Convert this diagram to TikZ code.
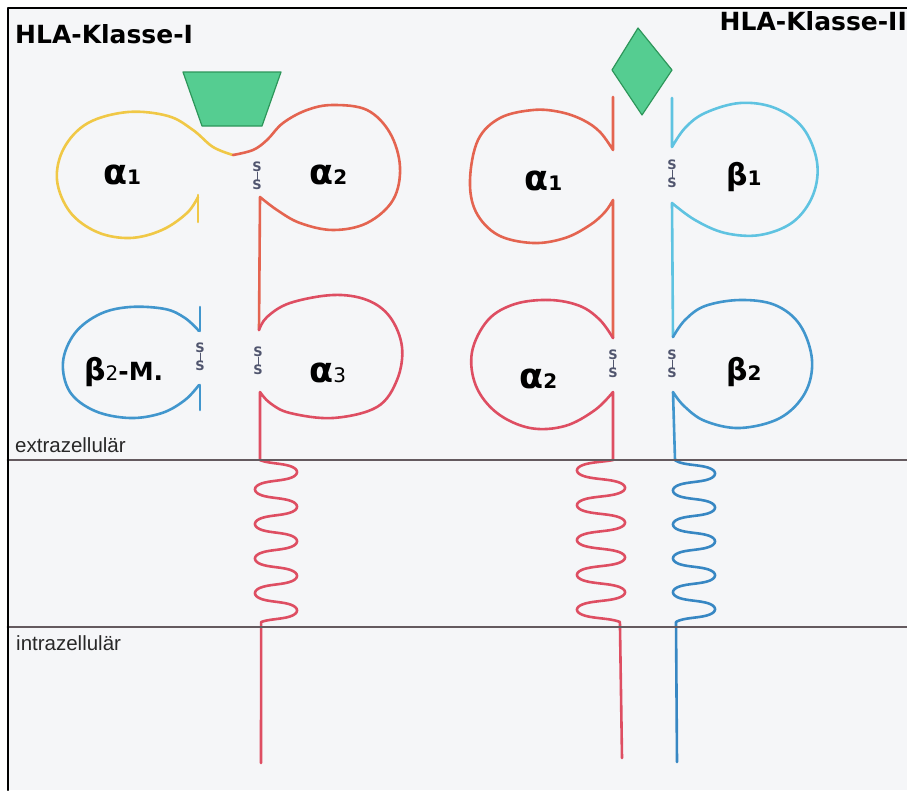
\documentclass[tikz,border=0pt]{standalone}
\usepackage{fontspec}
\setmainfont{DejaVu Sans}
\newfontfamily\zonefont{Liberation Sans}
\newcommand\greekbig[1]{{\fontsize{35}{35}\selectfont #1}}
\newcommand\subdigit[1]{{\fontsize{20}{20}\selectfont #1}}
\begin{document}
\begin{tikzpicture}[x=1pt,y=-1pt,line join=round,line cap=round]
\definecolor{paper}{RGB}{245,246,248}
\definecolor{redA}{RGB}{228,100,80}
\definecolor{redB}{RGB}{222,78,98}
\definecolor{yelA}{RGB}{240,200,70}
\definecolor{cyanA}{RGB}{95,195,225}
\definecolor{blueA}{RGB}{65,150,205}
\definecolor{blueB}{RGB}{55,135,195}
\definecolor{greenF}{RGB}{85,205,145}
\definecolor{greenD}{RGB}{45,150,90}
\definecolor{memb}{RGB}{100,90,95}
\definecolor{ssgray}{RGB}{80,85,110}
\tikzset{
  strand/.style={line width=2.6pt},
  membrane/.style={line width=2.8pt,draw=memb},
  frameline/.style={line width=2.6pt,draw=black},
  ligand/.style={fill=greenF,draw=greenD,line width=1.2pt},
  title/.style={font=\fontsize{25}{25}\selectfont\bfseries,inner sep=0pt},
  dom/.style={font=\bfseries,inner sep=0pt,anchor=base west},
  zone/.style={font=\zonefont\fontsize{20.5}{20.5}\selectfont,text={rgb,255:red,40;green,40;blue,40},inner sep=0pt,anchor=base west},
  ssl/.style={font=\fontsize{13}{13}\selectfont\bfseries,text=ssgray,inner sep=0pt},
  sslink/.style={draw=ssgray,line width=1pt},
}
\newcommand\ssbond[3]{%
  \node[ssl] (#1a) at (#2,#3-9) {S};
  \node[ssl] (#1b) at (#2,#3+9) {S};
  \draw[sslink] (#1a) -- (#1b);}

\useasboundingbox (0,0) rectangle (907,790);
\fill[white] (0,0) rectangle (907,790);
\fill[paper] (8,8) rectangle (907,790);

% ---------- HLA class I ----------
% peptide in the groove
\draw[ligand] (183,72) -- (281,72) -- (262,126) -- (202,126) -- cycle;
% alpha-1 domain
\draw[strand,yelA] plot[smooth,tension=0.6] coordinates {(198,197) (187,213) (162,230) (130,238) (97,232) (70,212) (57,180) (64,148) (88,123) (128,112) (168,116) (193,130) (213,147) (233,155)};
\draw[strand,yelA] (198,195) -- (198,222);
% alpha-2 domain and stem
\draw[strand,redA] plot[smooth,tension=0.6] coordinates {(233,155) (253,150) (267,140) (283,123) (307,110) (333,105) (367,110) (390,133) (400,167) (393,200) (367,223) (333,230) (300,223) (277,210) (260,197)} -- (259,330);
% alpha-3 domain, transmembrane coil, cytoplasmic tail
\draw[strand,redB] plot[smooth,tension=0.6] coordinates {(259,330) (267,317) (290,303) (333,295) (367,300) (390,317) (402,347) (397,380) (377,407) (333,418) (290,413) (270,403) (260,392)} -- (260,460);
\draw[strand,redB] plot[domain=-50:1665,samples=320,smooth,variable=\t]
  ({276+21*sin(\t)},{460+0.096081*(\t+50)-1.4*(sin(2*\t)+0.9848)}) -- (261,763);
% beta-2 microglobulin
\draw[strand,blueA] plot[smooth,tension=0.6] coordinates {(199,331) (185,318) (165,309) (130,307) (100,314) (75,333) (63,362) (70,392) (95,411) (130,418) (162,413) (185,400) (199,385)};
\draw[strand,blueA] (200,307) -- (200,331);
\draw[strand,blueA] (200,385) -- (200,410);
% disulfide bridges
\ssbond{ssA}{257}{176}
\ssbond{ssB}{258}{361}
\ssbond{ssC}{200}{357}

% ---------- HLA class II ----------
\draw[ligand] (638,28) -- (672,70) -- (642,115) -- (612,70) -- cycle;
% alpha chain
\draw[strand,redA] (613,97) -- plot[smooth,tension=0.6] coordinates {(613,150) (600,132) (583,120) (560,112) (533,110) (500,118) (478,140) (470,180) (476,212) (498,235) (533,243) (565,238) (590,225) (605,212) (613,200)} -- (613,338);
\draw[strand,redB] plot[smooth,tension=0.6] coordinates {(613,338) (600,320) (580,306) (550,300) (515,304) (488,320) (472,352) (476,386) (497,413) (530,428) (565,426) (595,410) (613,392)} -- (613,460);
\draw[strand,redB] plot[domain=-30:1672,samples=320,smooth,variable=\t]
  ({601-24*sin(\t)},{460+0.096692*(\t+30)-1.4*(sin(2*\t)+0.8660)}) -- (622,758);
% beta chain
\draw[strand,cyanA] (672,98) -- plot[smooth,tension=0.6] coordinates {(672,147) (685,128) (705,113) (740,103) (775,108) (803,128) (817,162) (813,195) (793,222) (760,235) (725,233) (695,220) (672,203)} -- (673,337);
\draw[strand,blueA] plot[smooth,tension=0.6] coordinates {(673,337) (685,320) (705,306) (740,300) (775,305) (800,325) (812,360) (805,393) (780,418) (740,428) (705,421) (684,406) (673,392)} -- (675,460);
\draw[strand,blueB] plot[domain=-65:1679,samples=320,smooth,variable=\t]
  ({694+21*sin(\t)},{460+0.094213*(\t+65)-1.4*(sin(2*\t)+0.7660)}) -- (677,762);
% disulfide bridges
\ssbond{ssD}{672}{174}
\ssbond{ssE}{613}{364}
\ssbond{ssF}{672}{364}

% ---------- membrane and frame ----------
\draw[membrane] (8,460) -- (907,460);
\draw[membrane] (8,627) -- (907,627);
\draw[frameline] (8,790) -- (8,8) -- (907,8);

% ---------- labels ----------
\node[title,anchor=base west] (classI) at (15,43) {HLA-Klasse-I};
\node[title,anchor=base east] (classII) at (907,30) {HLA-Klasse-II};
\node[dom] (la1) at (103,184) {\greekbig{α}\subdigit{1}};
\node[dom] (la2) at (309,184) {\greekbig{α}\subdigit{2}};
\node[dom] (la3) at (309,382) {\greekbig{α}\subdigit{\mdseries 3}};
\node[dom] (lb2m) at (84,380) {\fontsize{30}{30}\selectfont β\subdigit{\mdseries 2}{\fontsize{25}{25}\selectfont -M.}};
\node[dom] (lIIa1) at (524,190) {\greekbig{α}\subdigit{1}};
\node[dom] (lIIa2) at (519,388) {\greekbig{α}\subdigit{2}};
\node[dom] (lIIb1) at (726,185) {\fontsize{30}{30}\selectfont β\subdigit{1}};
\node[dom] (lIIb2) at (726,380) {\fontsize{30}{30}\selectfont β\subdigit{2}};
\node[zone] (ext) at (15,452) {extrazellulär};
\node[zone] (intr) at (16,650) {intrazellulär};
\end{tikzpicture}
\end{document}
